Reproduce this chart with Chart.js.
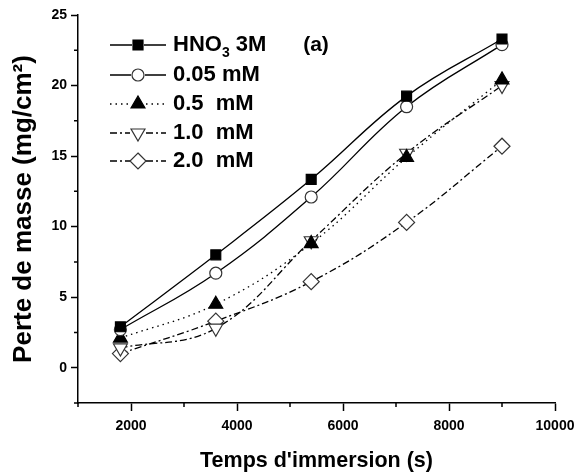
<!DOCTYPE html>
<html>
<head>
<meta charset="utf-8">
<script src="https://cdn.jsdelivr.net/npm/chart.js@4"></script>
<style>
  html, body { margin: 0; padding: 0; background: #fff; }
  #wrap { width: 588px; height: 476px; }
</style>
</head>
<body>
<div id="wrap"><canvas id="myChart" width="588" height="476"></canvas></div>
<script>
// temps d'immersion (s)
const times = [1800, 3600, 5400, 7200, 9000];
// perte de masse (mg/cm2)
const hno3 = [2.9, 8.0, 13.35, 19.25, 23.3];
const c005 = [2.7, 6.7, 12.1, 18.5, 22.9];
const c05 = [2.1, 4.5, 8.8, 14.9, 20.4];
const c10 = [1.4, 2.8, 9.0, 15.2, 20.0];
const c20 = [1.0, 3.3, 6.1, 10.3, 15.7];

const xMajor = [2000, 4000, 6000, 8000, 10000];
const xMinor = [1000, 3000, 5000, 7000, 9000];
const yMajor = [0, 5, 10, 15, 20, 25];
const yMinor = [-2.5, 2.5, 7.5, 12.5, 17.5, 22.5];

const FONT = "'Liberation Sans', Arial, sans-serif";

function pts(vals) {
  return times.map((t, i) => ({ x: t, y: vals[i] }));
}

const series = [
  { label: 'HNO3 3M', data: hno3, style: 'rect', fill: '#000', rot: 0, dash: [], r: 7 },
  { label: '0.05 mM', data: c005, style: 'circle', fill: '#fff', rot: 0, dash: [], r: 6 },
  { label: '0.5  mM', data: c05, style: 'triangle', fill: '#000', rot: 0, dash: [1.5, 4], r: 8 },
  { label: '1.0  mM', data: c10, style: 'triangle', fill: '#fff', rot: 180, dash: [7, 3, 2, 3], r: 8 },
  { label: '2.0  mM', data: c20, style: 'rectRot', fill: '#fff', rot: 0, dash: [7, 3, 2, 3], r: 8 }
];

// minor ticks + legend drawn on top
const extras = {
  id: 'extras',
  afterDraw(chart) {
    const ctx = chart.ctx;
    const xs = chart.scales.x, ys = chart.scales.y;
    const area = chart.chartArea;
    ctx.save();
    ctx.strokeStyle = '#000';
    ctx.lineWidth = 1.5;
    ctx.beginPath();
    xMinor.forEach(v => {
      const px = xs.getPixelForValue(v);
      ctx.moveTo(px, area.bottom);
      ctx.lineTo(px, area.bottom + 4);
    });
    yMinor.forEach(v => {
      const py = ys.getPixelForValue(v);
      ctx.moveTo(area.left, py);
      ctx.lineTo(area.left - 4, py);
    });
    ctx.stroke();

    // legend
    const lx0 = 110, lx1 = 166, mx = 138, tx = 173;
    const rows = [45, 75, 104, 133, 161];
    series.forEach((s, i) => {
      const y = rows[i];
      const half = s.style === 'rect' ? 5 : (s.style === 'circle' ? 6 : 7);
      ctx.strokeStyle = '#000';
      ctx.lineWidth = 1.4;
      ctx.setLineDash(s.dash);
      ctx.beginPath();
      ctx.moveTo(lx0, y);
      ctx.lineTo(mx - half - 1, y);
      ctx.moveTo(mx + half + 1, y);
      ctx.lineTo(lx1, y);
      ctx.stroke();
      ctx.setLineDash([]);
      drawMarker(ctx, s, mx, y);
      ctx.fillStyle = '#000';
      ctx.textBaseline = 'middle';
      ctx.textAlign = 'left';
      ctx.font = 'bold 22px ' + FONT;
      if (i === 0) {
        ctx.fillText('HNO', tx, y);
        let w = ctx.measureText('HNO').width;
        ctx.font = 'bold 14px ' + FONT;
        ctx.fillText('3', tx + w, y + 8);
        const w2 = ctx.measureText('3').width;
        ctx.font = 'bold 22px ' + FONT;
        ctx.fillText(' 3M', tx + w + w2, y);
      } else {
        ctx.fillText(s.label, tx, y);
      }
    });
    ctx.font = 'bold 21px ' + FONT;
    ctx.textAlign = 'center';
    ctx.fillText('(a)', 316, 45);
    ctx.restore();
  }
};

function drawMarker(ctx, s, x, y) {
  ctx.fillStyle = s.fill;
  ctx.strokeStyle = s.fill === '#000' ? '#000' : '#333';
  ctx.lineWidth = 1.2;
  ctx.beginPath();
  if (s.style === 'rect') {
    ctx.rect(x - 5, y - 5, 10, 10);
  } else if (s.style === 'circle') {
    ctx.arc(x, y, 6, 0, Math.PI * 2);
  } else if (s.style === 'triangle') {
    const r = 8, d = s.rot ? -1 : 1;
    ctx.moveTo(x, y - d * r);
    ctx.lineTo(x + r * 0.87, y + d * r * 0.5);
    ctx.lineTo(x - r * 0.87, y + d * r * 0.5);
    ctx.closePath();
  } else {
    const r = 8;
    ctx.moveTo(x, y - r);
    ctx.lineTo(x + r, y);
    ctx.lineTo(x, y + r);
    ctx.lineTo(x - r, y);
    ctx.closePath();
  }
  ctx.fill();
  ctx.stroke();
}

function setup() {
  const ctx = document.getElementById('myChart').getContext('2d');
  const myChart = new Chart(ctx, {
    type: 'line',
    data: {
      datasets: series.map(s => ({
        label: s.label,
        data: pts(s.data),
        borderColor: '#000',
        borderWidth: 1.3,
        borderDash: s.dash,
        tension: 0.4,
        fill: false,
        pointStyle: s.style,
        pointRotation: s.rot,
        pointRadius: s.r,
        pointBackgroundColor: s.fill,
        pointBorderColor: s.fill === '#000' ? '#000' : '#333',
        pointBorderWidth: 1.2
      }))
    },
    options: {
      responsive: false,
      animation: false,
      layout: { padding: { top: 15, right: 33, left: 0, bottom: 0 } },
      plugins: {
        legend: { display: false },
        tooltip: { enabled: false }
      },
      scales: {
        x: {
          type: 'linear',
          min: 1000,
          max: 10000,
          afterBuildTicks: sc => { sc.ticks = xMajor.map(v => ({ value: v })); },
          afterFit: sc => { sc.height = 73; },
          grid: { drawOnChartArea: false, drawTicks: true, tickLength: 8, tickColor: '#000', tickWidth: 1.5 },
          border: { display: true, color: '#000', width: 1.5 },
          ticks: {
            color: '#000', font: { family: FONT, size: 14, weight: 'bold' }, padding: 7, maxRotation: 0,
            callback: v => String(v)
          },
          title: { display: true, text: "Temps d'immersion (s)", color: '#000', font: { family: FONT, size: 21.5, weight: 'bold' }, padding: { top: 4, bottom: 2 } }
        },
        y: {
          min: -2.5,
          max: 25,
          afterBuildTicks: sc => { sc.ticks = yMajor.map(v => ({ value: v })); },
          afterFit: sc => { sc.width = 78; },
          grid: { drawOnChartArea: false, drawTicks: true, tickLength: 7, tickColor: '#000', tickWidth: 1.5 },
          border: { display: true, color: '#000', width: 1.5 },
          ticks: {
            color: '#000', font: { family: FONT, size: 14, weight: 'bold' }, padding: 4,
            callback: v => String(v)
          },
          title: { display: true, text: 'Perte de masse (mg/cm²)', color: '#000', font: { family: FONT, size: 26, weight: 'bold' }, padding: { top: 8, bottom: 4 } }
        }
      }
    },
    plugins: [extras]
  });
}

window.addEventListener('load', setup);
</script>
</body>
</html>
